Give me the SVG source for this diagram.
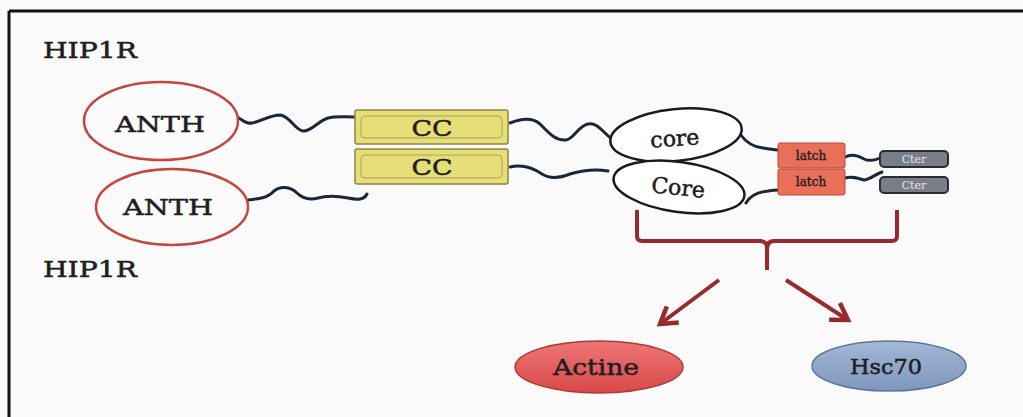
<svg xmlns="http://www.w3.org/2000/svg" width="1023" height="417" viewBox="0 0 1023 417">
<defs>
<style>
.t{font-family:"DejaVu Serif","Liberation Serif",serif;fill:#1e1e22;stroke:#1e1e22;stroke-width:0.5;text-anchor:middle}
.wave{fill:none;stroke:#1c2636;stroke-width:3;stroke-linecap:round;stroke-linejoin:round}
.brace{fill:none;stroke:#982a2e;stroke-width:4;stroke-linecap:square;stroke-linejoin:round}
.arr{fill:none;stroke:#982a2e;stroke-width:4}
.anth{fill:#fbfbfb;stroke:#c4463c;stroke-width:2.5}
.core{fill:#ffffff;stroke:#1b1b1b;stroke-width:2.5}
.cc{fill:#e6df78;stroke:#8c8640;stroke-width:1.5}
.ccin{fill:none;stroke:#a9a25a;stroke-width:1}
.latch{fill:#ea6f58;stroke:#b84c3a;stroke-width:1}
.cter{fill:#7b7e88;stroke:#2a2c33;stroke-width:2}
</style>
<linearGradient id="gRed" x1="0" y1="0" x2="0" y2="1">
<stop offset="0" stop-color="#ee7676"/><stop offset="1" stop-color="#d84848"/>
</linearGradient>
<linearGradient id="gBlue" x1="0" y1="0" x2="0" y2="1">
<stop offset="0" stop-color="#a4b8d6"/><stop offset="1" stop-color="#7e97be"/>
</linearGradient>
<marker id="ah2" viewBox="0 0 24 24" refX="20" refY="12" markerWidth="24" markerHeight="24" orient="auto" markerUnits="userSpaceOnUse">
<path d="M4,2 L20,12 L4,22" fill="none" stroke="#982a2e" stroke-width="4.5" stroke-linejoin="miter"/>
</marker>
</defs>
<rect x="0" y="0" width="1023" height="417" fill="#fafafa"/>
<path d="M9,11 L1023,11 M9,11 L9,417" fill="none" stroke="#111" stroke-width="3"/>

<g id="label-hip1r-top"><text class="t" x="90" y="58" font-size="22" textLength="94" lengthAdjust="spacingAndGlyphs">HIP1R</text></g>
<g id="label-hip1r-bottom"><text class="t" x="90" y="277" font-size="22" textLength="94" lengthAdjust="spacingAndGlyphs">HIP1R</text></g>

<g id="connectors">
<path class="wave" d="M236,116 C242,120 246,124 252,123 C260,122 270,115 280,115 C290,116 295,130 303,131 C311,132 318,121 328,118 C336,116 344,117 354,117"/>
<path class="wave" d="M248,200 C258,199 268,198 274,191 C280,186 290,186 297,193 C303,199 310,200 318,198 C328,195 338,196 348,198 C358,200 364,200 367,194"/>
<path class="wave" d="M510,123 C520,119 532,117 540,124 C548,132 555,141 566,140 C574,139 578,126 588,124 C598,122 603,133 612,139"/>
<path class="wave" d="M510,167 C522,164 532,167 542,174 C550,179 560,178 570,174 C580,171 592,168 608,171"/>
<path class="wave" d="M740,134 C745,141 752,147 763,148 C770,149 775,150 780,150"/>
<path class="wave" d="M746,203 C750,196 758,192 768,191 C773,190 777,190 780,190"/>
<path class="wave" d="M845,157 C851,154 857,155 864,159 C870,162 876,160 882,157"/>
<path class="wave" d="M845,178 C852,176 858,178 864,180 C869,180 874,175 882,172"/>
<path class="brace" d="M637,212 L637,236 Q637,241 642,241 L760,241 Q767,241 767,248 L767,268 M767,248 Q767,241 774,241 L892,241 Q897,241 897,236 L897,212"/>
<line class="arr" x1="719" y1="280" x2="660" y2="324" marker-end="url(#ah2)"/>
<line class="arr" x1="786" y1="280" x2="848" y2="320" marker-end="url(#ah2)"/>
</g>

<g id="anth-top"><ellipse class="anth" cx="161" cy="121" rx="77" ry="39"/><text class="t" x="160" y="132" font-size="23" textLength="90" lengthAdjust="spacingAndGlyphs">ANTH</text></g>
<g id="anth-bottom"><ellipse class="anth" cx="172" cy="207" rx="76" ry="38"/><text class="t" x="168" y="215" font-size="23" textLength="90" lengthAdjust="spacingAndGlyphs">ANTH</text></g>

<g id="cc-top"><rect class="cc" x="355" y="110" width="153" height="34" rx="2"/><rect class="ccin" x="361" y="116" width="141" height="22" rx="4"/><text class="t" x="432" y="136" font-size="22" textLength="41" lengthAdjust="spacingAndGlyphs">CC</text></g>
<g id="cc-bottom"><rect class="cc" x="355" y="149" width="153" height="35" rx="2"/><rect class="ccin" x="361" y="155" width="141" height="23" rx="4"/><text class="t" x="432" y="175" font-size="22" textLength="41" lengthAdjust="spacingAndGlyphs">CC</text></g>

<g id="core-top"><ellipse class="core" cx="676" cy="135" rx="66" ry="26" transform="rotate(-6 676 135)"/><text class="t" x="675" y="146" font-size="22" transform="rotate(-4 675 141)">core</text></g>
<g id="core-bottom"><ellipse class="core" cx="679" cy="187" rx="66" ry="25" transform="rotate(8 679 187)"/><text class="t" x="678" y="195" font-size="22" transform="rotate(6 678 190)">Core</text></g>

<g id="latch-top"><rect class="latch" x="778" y="143" width="67" height="25" rx="2"/><text class="t" x="811" y="160" font-size="12" style="stroke-width:0.4">latch</text></g>
<g id="latch-bottom"><rect class="latch" x="778" y="169" width="67" height="26" rx="2"/><text class="t" x="811" y="186" font-size="12" style="stroke-width:0.4">latch</text></g>

<g id="cter-top"><rect class="cter" x="880" y="151" width="68" height="16" rx="4"/><text class="t" x="914" y="163" font-size="11" style="fill:#e4e4e8;stroke:none">Cter</text></g>
<g id="cter-bottom"><rect class="cter" x="880" y="177" width="68" height="16" rx="4"/><text class="t" x="914" y="189" font-size="11" style="fill:#e4e4e8;stroke:none">Cter</text></g>

<g id="actine"><ellipse cx="599" cy="367" rx="84" ry="26" fill="url(#gRed)" stroke="#b03838" stroke-width="1.5"/><text class="t" x="596" y="375" font-size="22" textLength="86" lengthAdjust="spacingAndGlyphs">Actine</text></g>
<g id="hsc70"><ellipse cx="889" cy="366" rx="77" ry="25" fill="url(#gBlue)" stroke="#5f7598" stroke-width="1.5"/><text class="t" x="886" y="374" font-size="20" textLength="72" lengthAdjust="spacingAndGlyphs">Hsc70</text></g>
</svg>
